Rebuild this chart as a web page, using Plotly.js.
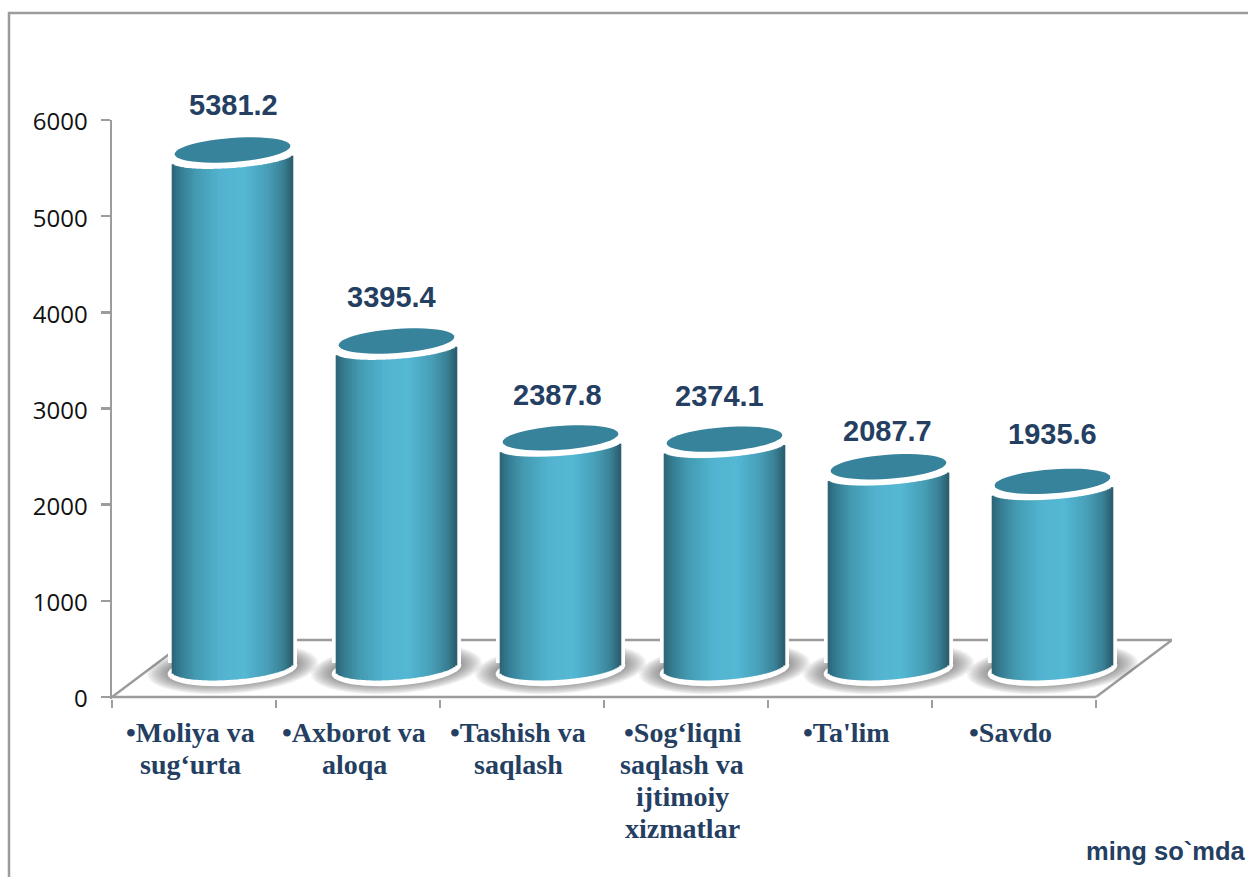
<!DOCTYPE html>
<html>
<head>
<meta charset="utf-8">
<script src="https://cdn.plot.ly/plotly-3.0.1.min.js"></script>
<style>html,body{margin:0;padding:0;background:#fff;overflow:hidden}</style>
</head>
<body>
<div id="chart" style="width:1248px;height:877px"></div>
<script>
const categoryLines = [["•Moliya va", "sug‘urta"], ["•Axborot va", "aloqa"], ["•Tashish va", "saqlash"], ["•Sog‘liqni", "saqlash va", "ijtimoiy", "xizmatlar"], ["•Ta'lim"], ["•Savdo"]];
const values = [5381.2, 3395.4, 2387.8, 2374.1, 2087.7, 1935.6];
const valueLabels = ["5381.2", "3395.4", "2387.8", "2374.1", "2087.7", "1935.6"];
const yTicks = [0, 1000, 2000, 3000, 4000, 5000, 6000];

// layout geometry (pixels)
const W = 1248, H = 877, L = 112, T = 120, B = 697, PB = 699, R = 1172, CAT = 164;
const pxX = px => -0.5 + (px - L) / CAT;
const pxY = px => (B - px) * 6000 / (B - T);
const paperX = px => (px - L) / (R - L);
const paperY = px => (PB - px) / (PB - T);
const NAVY = "#243F62", GREY = "#9C9C9C";
const BAR_SHIFT = 38.5, HALF = 60.5, BASE_PX = 667, TOP_ZERO_PX = 675.5;
const TILT = -4.2 * Math.PI / 180, cT = Math.cos(TILT), sT = Math.sin(TILT);

function ellipsePath(cx, cy, a, b) {
  const pts = [];
  for (let k = 0; k < 48; k++) {
    const t = k / 48 * 2 * Math.PI;
    const dx = a * Math.cos(t) * cT - b * Math.sin(t) * sT;
    const dy = a * Math.cos(t) * sT + b * Math.sin(t) * cT;
    pts.push((k ? "L" : "M") + pxX(cx + dx).toFixed(4) + "," + pxY(cy + dy).toFixed(2));
  }
  return pts.join(" ") + " Z";
}
function lowerArc(dx, a, b) {
  const A = sT * sT / (a * a) + cT * cT / (b * b);
  const Bq = 2 * dx * (cT * sT / (a * a) - sT * cT / (b * b));
  const C = dx * dx * (cT * cT / (a * a) + sT * sT / (b * b)) - 1;
  const d = Math.max(0, Bq * Bq - 4 * A * C);
  return (-Bq + Math.sqrt(d)) / (2 * A);
}
const stops = [[0,"#2B6375"],[0.07,"#357C91"],[0.2,"#449BB2"],[0.4,"#50B2CE"],[0.6,"#52B7D4"],[0.8,"#479EB6"],[0.92,"#398095"],[1,"#2A5C6C"]];
function rgbAt(t) {
  let i = 0;
  while (i < stops.length - 2 && t > stops[i + 1][0]) i++;
  const [t0, c0] = stops[i], [t1, c1] = stops[i + 1], f = (t - t0) / (t1 - t0);
  const ch = (c, o) => parseInt(c.substr(o, 2), 16);
  const m = o => Math.round(ch(c0, o) + (ch(c1, o) - ch(c0, o)) * f);
  return `rgb(${m(1)},${m(3)},${m(5)})`;
}

const centers = values.map((_, i) => L + CAT * i + CAT / 2 + BAR_SHIFT);
const traces = [];
// white halo round each cylinder
traces.push({
  type: "bar", x: centers.map(pxX),
  y: values.map(v => pxY(TOP_ZERO_PX - v * (B - T) / 6000 - 4) - pxY(BASE_PX - 4)),
  base: values.map(() => pxY(BASE_PX - 4)),
  width: (HALF + 4) * 2 / CAT,
  marker: {color: "#ffffff", line: {width: 0}}, hoverinfo: "skip", showlegend: false
});
// cylinder body: narrow shaded strips
const STRIPS = 61;
for (let s = 0; s < STRIPS; s++) {
  const t = (s + 0.5) / STRIPS, dx = (t - 0.5) * 2 * HALF;
  const botOff = lowerArc(dx, HALF + 0.5, 12.7), topOff = lowerArc(dx, HALF + 0.5, 10);
  traces.push({
    type: "bar",
    x: centers.map(c => pxX(c + dx)),
    y: values.map(v => pxY(TOP_ZERO_PX - v * (B - T) / 6000 + topOff) - pxY(BASE_PX + botOff)),
    base: values.map(() => pxY(BASE_PX + botOff)),
    width: 2.6 / CAT,
    marker: {color: rgbAt(t), line: {width: 0}}, hoverinfo: "skip", showlegend: false
  });
}

const line = (x0, y0, x1, y1) => ({type: "line", layer: "below", x0: pxX(x0), y0: pxY(y0), x1: pxX(x1), y1: pxY(y1), line: {color: GREY, width: 2.5}});
const shapes = [
  line(L, B, L + CAT * 6, B),
  line(L + CAT * 6, B, R, 640),
  line(R, 640, L + 76, 640),
  line(L + 76, 640, L, B)
];
// page frame, runs off the top-right and bottom-left edges
shapes.push({type: "path", xref: "paper", yref: "paper",
  path: `M${paperX(9)},${paperY(H + 5)} L${paperX(9)},${paperY(13)} L${paperX(W + 5)},${paperY(13)}`,
  line: {color: GREY, width: 2.5}, layer: "below"});
centers.forEach(c => {
  const n = 14;
  for (let k = 0; k < n; k++) {
    const f = k / (n - 1);
    shapes.push({type: "path", layer: "below", path: ellipsePath(c, 668.5, 86 - 22 * f, 25 - 10 * f),
      fillcolor: "rgba(70,70,70,0.055)", line: {width: 0}});
  }
  shapes.push({type: "path", layer: "below", path: ellipsePath(c, BASE_PX + 2.5, HALF + 4.5, 16), fillcolor: "#ffffff", line: {width: 0}});
});
values.forEach((v, i) => {
  const top = TOP_ZERO_PX - v * (B - T) / 6000;
  shapes.push({type: "path", layer: "above", path: ellipsePath(centers[i], top - 8, 58, 12), fillcolor: "#38839C", line: {width: 0}});
});

const labelDX = [0.5, -5.5, -3.5, -5.5, -1.5, -0.5], labelDY = [0, 1, 2, 2, 9, -2];
const annotations = values.map((v, i) => ({
  x: pxX(centers[i] + labelDX[i]), y: 0, xref: "x", yref: "y",
  yshift: B - (TOP_ZERO_PX - v * (B - T) / 6000 - 53 + labelDY[i]),
  text: "<b>" + valueLabels[i] + "</b>", showarrow: false, xanchor: "center", yanchor: "middle",
  font: {family: "Liberation Sans", size: 29, color: NAVY}
}));
categoryLines.forEach((lines, i) => lines.forEach((txt, j) => annotations.push({
  x: pxX(L + CAT * i + CAT / 2 - 4), xref: "x", yref: "paper", y: paperY(732 + 32 * j),
  text: "<b>" + txt + "</b>", showarrow: false, xanchor: "center", yanchor: "middle",
  font: {family: "Liberation Serif", size: 28, color: NAVY}
})));
annotations.push({xref: "paper", yref: "paper", x: paperX(1084), y: paperY(851),
  text: "<b>ming so`mda</b>", showarrow: false, xanchor: "left", yanchor: "middle",
  font: {family: "Liberation Sans", size: 25.5, color: NAVY}});

const layout = {
  width: W, height: H, margin: {l: L, t: T, b: H - PB, r: W - R, pad: 0},
  paper_bgcolor: "#fff", plot_bgcolor: "rgba(0,0,0,0)", barmode: "overlay", showlegend: false,
  xaxis: {
    type: "linear", range: [pxX(L), pxX(R)], showgrid: false, zeroline: false, showline: false, fixedrange: true,
    showticklabels: false, tickmode: "array", tickvals: [0, 1, 2, 3, 4, 5, 6].map(i => i - 0.5),
    ticks: "outside", ticklen: 8, tickwidth: 2.5, tickcolor: GREY
  },
  yaxis: {
    range: [pxY(PB), 6000], tickmode: "array", tickvals: yTicks.map(v => v - 21), ticktext: yTicks.map(String), showgrid: false, zeroline: false, fixedrange: true,
    showline: true, linecolor: GREY, linewidth: 2.5, ticks: "outside", ticklen: 0, tickwidth: 0, ticklabelstandoff: 17,
    tickfont: {family: "Open Sans", size: 24, color: "#111"},
    minor: {tickmode: "array", tickvals: yTicks, ticks: "outside", ticklen: 9, tickwidth: 2.5, tickcolor: GREY, showgrid: false}
  },
  shapes, annotations
};
Plotly.newPlot("chart", traces, layout, {displayModeBar: false, staticPlot: true});
</script>
</body>
</html>
